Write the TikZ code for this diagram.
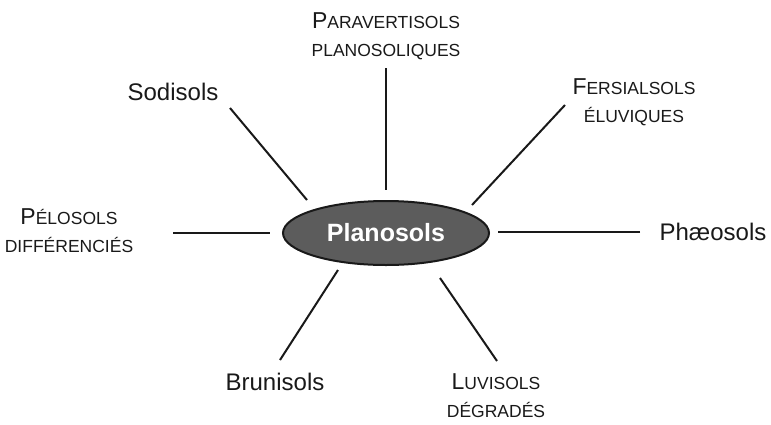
\documentclass[tikz,border=0pt]{standalone}
\usepackage{fontspec}
\setmainfont{Liberation Sans}
\usetikzlibrary{shapes.geometric}
\newcommand{\fsc}[2]{{\fontsize{23}{28}\selectfont #1}{\fontsize{17.5}{28}\selectfont #2}}
\newcommand{\ssc}[1]{{\fontsize{17.5}{28}\selectfont #1}}
\begin{document}
\begin{tikzpicture}[x=1pt,y=-1pt,
  lbl/.style={font=\fontsize{24}{28}\selectfont, inner sep=0pt, align=center, text=black!90},
  two/.style={font=\fontsize{17.5}{28}\selectfont, inner sep=0pt, align=center, text=black!90},
  conn/.style={line width=2pt, black!90},
  hub/.style={ellipse, draw=black!90, line width=2pt, fill=black!64, minimum width=206pt, minimum height=64pt, inner sep=0pt, text=white, font=\fontsize{25}{30}\selectfont\bfseries}]
\useasboundingbox (0,0) rectangle (771,424);
\node[hub] (c) at (386,233) {Planosols};
\node[lbl] (sod) at (173,92) {Sodisols};
\node[two] (par) at (386,36) {\fsc{P}{ARAVERTISOLS}\\\ssc{PLANOSOLIQUES}};
\node[two] (fer) at (634,102) {\fsc{F}{ERSIALSOLS}\\\ssc{ÉLUVIQUES}};
\node[two] (pel) at (69,231) {\fsc{P}{ÉLOSOLS}\\\ssc{DIFFÉRENCIÉS}};
\node[lbl] (pha) at (713,232) {Phæosols};
\node[lbl] (bru) at (275,382) {Brunisols};
\node[two] (luv) at (496,396) {\fsc{L}{UVISOLS}\\\ssc{DÉGRADÉS}};
\coordinate (sodA) at (230,108); \coordinate (sodB) at (307,200);
\coordinate (parA) at (386,68);  \coordinate (parB) at (386,190);
\coordinate (ferA) at (565,105); \coordinate (ferB) at (472,205);
\coordinate (pelA) at (173,233); \coordinate (pelB) at (270,233);
\coordinate (phaA) at (640,232); \coordinate (phaB) at (498,232);
\coordinate (bruA) at (280,360); \coordinate (bruB) at (338,270);
\coordinate (luvA) at (497,361); \coordinate (luvB) at (440,278);
\draw[conn] (sodA) -- (sodB);
\draw[conn] (parA) -- (parB);
\draw[conn] (ferA) -- (ferB);
\draw[conn] (pelA) -- (pelB);
\draw[conn] (phaA) -- (phaB);
\draw[conn] (bruA) -- (bruB);
\draw[conn] (luvA) -- (luvB);
\end{tikzpicture}
\end{document}
